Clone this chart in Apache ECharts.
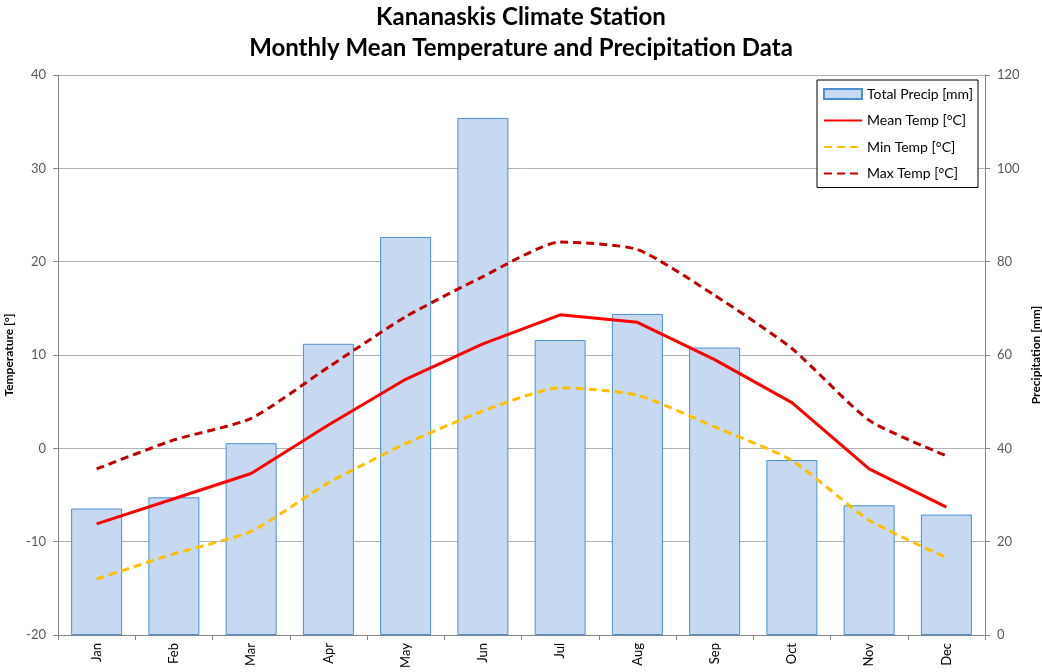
<!DOCTYPE html>
<html>
<head>
<meta charset="utf-8">
<script src="https://cdn.jsdelivr.net/npm/echarts@6/dist/echarts.min.js"></script>
<style>html,body{margin:0;padding:0;background:#fff;}#c{width:1042px;height:672px;}</style>
</head>
<body>
<div id="c"></div>
<script>
const months = ['Jan','Feb','Mar','Apr','May','Jun','Jul','Aug','Sep','Oct','Nov','Dec'];
const precip = [27.1, 29.5, 41.1, 62.4, 85.3, 110.8, 63.2, 68.8, 61.6, 37.5, 27.8, 25.8];
const meanTemp = [-8.1, -5.4, -2.7, 2.5, 7.4, 11.2, 14.3, 13.5, 9.5, 4.9, -2.2, -6.3];
const minTemp = [-14.0, -11.3, -8.9, -3.7, 0.5, 4.0, 6.5, 5.7, 2.3, -1.3, -7.7, -11.7];
const maxTemp = [-2.2, 0.9, 3.2, 8.7, 14.1, 18.4, 22.1, 21.3, 16.4, 10.7, 3.0, -0.8];

const FONT = 'Lato, "Open Sans", "Noto Sans", sans-serif';
const chart = echarts.init(document.getElementById('c'));
chart.setOption({
  animation: false,
  textStyle: { fontFamily: FONT },
  title: {
    text: 'Kananaskis Climate Station\nMonthly Mean Temperature and Precipitation Data',
    left: 'center', top: -3,
    textStyle: { fontFamily: FONT, fontSize: 24, fontWeight: 'bold', color: '#000', lineHeight: 31 }
  },
  legend: {
    orient: 'vertical', right: 64, top: 80,
    backgroundColor: '#fff', borderColor: '#000', borderWidth: 1,
    padding: [7, 5, 7, 6], itemGap: 12.5, itemWidth: 38, itemHeight: 10,
    textStyle: { fontFamily: FONT, fontSize: 14, color: '#000' },
    data: [
      { name: 'Total Precip [mm]', icon: 'rect' },
      { name: 'Mean Temp [°C]', itemStyle: { opacity: 0 } },
      { name: 'Min Temp [°C]', itemStyle: { opacity: 0 } },
      { name: 'Max Temp [°C]', itemStyle: { opacity: 0 } }
    ]
  },
  grid: { left: 58, right: 57, top: 75, bottom: 37, containLabel: false, outerBoundsMode: 'none' },
  xAxis: {
    type: 'category', data: months, boundaryGap: true,
    axisLine: { onZero: false, lineStyle: { color: '#868686' } },
    axisTick: { show: true, alignWithLabel: false, length: 5, lineStyle: { color: '#868686' } },
    axisLabel: { rotate: 90, color: '#000', fontSize: 13, margin: 8, fontFamily: FONT }
  },
  yAxis: [
    {
      type: 'value', min: -20, max: 40, interval: 10,
      name: 'Temperature [°]', nameLocation: 'middle', nameGap: 38, nameRotate: 90,
      nameTextStyle: { fontWeight: 'bold', fontSize: 12, color: '#000', fontFamily: FONT },
      axisLine: { show: true, lineStyle: { color: '#868686' } },
      axisTick: { show: true, length: 5, lineStyle: { color: '#868686' } },
      axisLabel: { color: '#595959', fontSize: 13, margin: 12, fontFamily: FONT },
      splitLine: { show: true, lineStyle: { color: '#b3b3b3', width: 1 } }
    },
    {
      type: 'value', min: 0, max: 120, interval: 20, position: 'right',
      name: 'Precipitation [mm]', nameLocation: 'middle', nameGap: 43, nameRotate: 90,
      nameTextStyle: { fontWeight: 'bold', fontSize: 12, color: '#000', fontFamily: FONT },
      axisLine: { show: true, lineStyle: { color: '#868686' } },
      axisTick: { show: true, length: 5, lineStyle: { color: '#868686' } },
      axisLabel: { color: '#595959', fontSize: 13, margin: 12, fontFamily: FONT },
      splitLine: { show: false }
    }
  ],
  series: [
    {
      name: 'Total Precip [mm]', type: 'bar', yAxisIndex: 1, data: precip, barWidth: 51,
      itemStyle: { color: '#c6d9f0', borderColor: '#4a90d0', borderWidth: 1 }
    },
    {
      name: 'Mean Temp [°C]', type: 'line', yAxisIndex: 0, data: meanTemp,
      symbol: 'none', lineStyle: { color: '#ff0000', width: 3 }, itemStyle: { color: '#ff0000' }
    },
    {
      name: 'Min Temp [°C]', type: 'line', yAxisIndex: 0, data: minTemp, smooth: 0.2,
      symbol: 'none', lineStyle: { color: '#ffc000', width: 3, type: [8, 5] }, itemStyle: { color: '#ffc000' }
    },
    {
      name: 'Max Temp [°C]', type: 'line', yAxisIndex: 0, data: maxTemp, smooth: 0.2,
      symbol: 'none', lineStyle: { color: '#c00000', width: 3, type: [8, 5] }, itemStyle: { color: '#c00000' }
    }
  ]
});
</script>
</body>
</html>
